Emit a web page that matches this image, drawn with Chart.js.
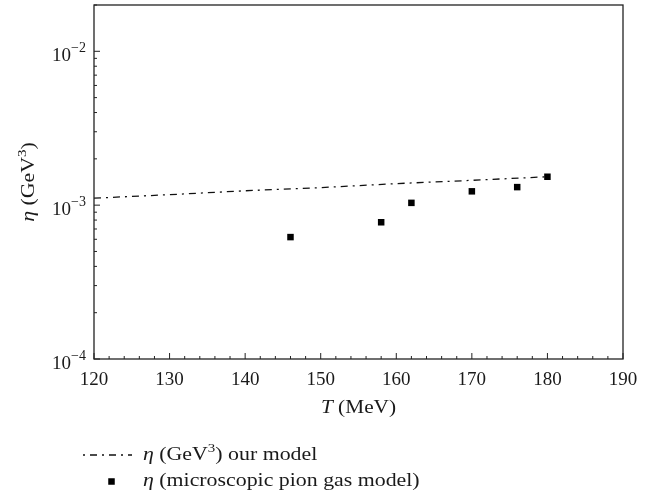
<!DOCTYPE html>
<html lang="en">
<head>
    <meta charset="UTF-8">
    <title>Shear viscosity vs temperature</title>
    <script src="https://cdn.jsdelivr.net/npm/chart.js"></script>
    <style>
        body { margin: 0; background: #fff; }
        #chartContainer { width: 666px; height: 498px; position: relative; }
    </style>
</head>
<body>
    <div id="chartContainer">
        <canvas id="etaChart"></canvas>
    </div>

    <script>
        // our model (dash-dot line)
        const modelT = [120, 130, 140, 150, 160, 170, 180];
        const modelEta = [1.11e-3, 1.17e-3, 1.24e-3, 1.30e-3, 1.38e-3, 1.45e-3, 1.53e-3];
        // microscopic pion gas model (squares)
        const pionT = [146, 158, 162, 170, 176, 180];
        const pionEta = [6.2e-4, 7.74e-4, 1.035e-3, 1.23e-3, 1.31e-3, 1.53e-3];

        const xTickLabels = [120, 130, 140, 150, 160, 170, 180, 190];
        const yExponents = [-4, -3, -2];

        const SERIF = '"Liberation Serif", "Times New Roman", serif';
        const INK = '#1a1a1a';
        const WIDEN = 1.15; // the original font runs wider than Times

        // draws text pieces one after another (for italic / superscript)
        function drawRuns(ctx, runs, x, y, align, sx = 1) {
            let total = 0;
            runs.forEach(r => { ctx.font = r.font; total += ctx.measureText(r.text).width; });
            const start = align === 'right' ? x - total * sx : align === 'center' ? x - total * sx / 2 : x;
            ctx.save();
            ctx.translate(start, y);
            ctx.scale(sx, 1);
            let cx = 0;
            runs.forEach(r => {
                ctx.font = r.font;
                ctx.fillText(r.text, cx, r.dy || 0);
                cx += ctx.measureText(r.text).width;
            });
            ctx.restore();
        }

        function line(ctx, x1, y1, x2, y2) {
            ctx.beginPath();
            ctx.moveTo(x1, y1);
            ctx.lineTo(x2, y2);
            ctx.stroke();
        }

        const decorations = {
            id: 'decorations',
            afterDraw(chart) {
                const { ctx, chartArea: a, scales: { x, y } } = chart;
                ctx.save();
                ctx.strokeStyle = '#222';
                ctx.fillStyle = INK;
                ctx.lineWidth = 1.3;
                ctx.strokeRect(a.left, a.top, a.right - a.left, a.bottom - a.top);

                // x ticks (inward), minor every 2
                ctx.lineWidth = 1;
                for (let v = x.min; v <= x.max; v += 2) {
                    const px = x.getPixelForValue(v);
                    line(ctx, px, a.bottom, px, a.bottom - (v % 10 === 0 ? 6 : 3));
                }
                // y ticks (inward), 1..9 per decade
                yExponents.forEach(e => {
                    for (let m = 1; m <= 9; m++) {
                        const v = m * Math.pow(10, e);
                        if (v > y.max) continue;
                        const py = y.getPixelForValue(v);
                        line(ctx, a.left, py, a.left + (m === 1 ? 6 : 3), py);
                    }
                });

                ctx.textBaseline = 'alphabetic';
                ctx.textAlign = 'left';
                // x tick labels
                xTickLabels.forEach(v => {
                    drawRuns(ctx, [{ text: String(v), font: `19px ${SERIF}` }], x.getPixelForValue(v), a.bottom + 26, 'center');
                });
                // y tick labels 10^e
                yExponents.forEach(e => {
                    const py = y.getPixelForValue(Math.pow(10, e));
                    drawRuns(ctx, [
                        { text: '10', font: `19px ${SERIF}` },
                        { text: '\u2212' + Math.abs(e), font: `14px ${SERIF}`, dy: -9 }
                    ], a.left - 8, py + 10, 'right');
                });

                // axis titles
                drawRuns(ctx, [
                    { text: 'T', font: `italic 19px ${SERIF}` },
                    { text: ' (MeV)', font: `19px ${SERIF}` }
                ], (a.left + a.right) / 2, 413, 'center', 1.12);

                ctx.save();
                ctx.translate(34, (a.top + a.bottom) / 2);
                ctx.rotate(-Math.PI / 2);
                drawRuns(ctx, [
                    { text: '\u03b7', font: `italic 19px ${SERIF}` },
                    { text: ' (GeV', font: `19px ${SERIF}` },
                    { text: '3', font: `13px ${SERIF}`, dy: -8 },
                    { text: ')', font: `19px ${SERIF}` }
                ], 0, 0, 'center', WIDEN);
                ctx.restore();

                // legend
                const ds0 = chart.data.datasets[0];
                const ds1 = chart.data.datasets[1];
                ctx.strokeStyle = ds0.borderColor;
                ctx.lineWidth = ds0.borderWidth;
                ctx.setLineDash(ds0.borderDash);
                ctx.lineDashOffset = ds0.borderDash[0] + ds0.borderDash[1];
                line(ctx, 83, 455, 132, 455);
                ctx.setLineDash([]);
                drawRuns(ctx, [
                    { text: '\u03b7', font: `italic 19px ${SERIF}` },
                    { text: ' (GeV', font: `19px ${SERIF}` },
                    { text: '3', font: `13px ${SERIF}`, dy: -8 },
                    { text: ') our model', font: `19px ${SERIF}` }
                ], 143, 460, 'left', WIDEN);

                const s = ds1.pointRadius * Math.SQRT1_2;
                ctx.fillStyle = ds1.backgroundColor;
                ctx.fillRect(111.5 - s, 481.5 - s, 2 * s, 2 * s);
                ctx.fillStyle = INK;
                drawRuns(ctx, [
                    { text: '\u03b7', font: `italic 19px ${SERIF}` },
                    { text: ' (microscopic pion gas model)', font: `19px ${SERIF}` }
                ], 143, 486, 'left', WIDEN);
                ctx.restore();
            }
        };

        const ctx = document.getElementById('etaChart').getContext('2d');
        new Chart(ctx, {
            type: 'scatter',
            data: {
                datasets: [{
                    label: 'η (GeV³) our model',
                    data: modelT.map((t, i) => ({ x: t, y: modelEta[i] })),
                    showLine: true,
                    borderColor: '#111',
                    borderWidth: 1.3,
                    borderDash: [7, 5, 2, 5],
                    pointRadius: 0,
                    tension: 0
                }, {
                    label: 'η (microscopic pion gas model)',
                    data: pionT.map((t, i) => ({ x: t, y: pionEta[i] })),
                    pointStyle: 'rect',
                    pointRadius: 4.6,
                    backgroundColor: '#000',
                    borderWidth: 0
                }]
            },
            options: {
                responsive: true,
                maintainAspectRatio: false,
                animation: false,
                layout: { padding: { top: 5, right: 43, left: 0, bottom: 0 } },
                plugins: { legend: { display: false }, tooltip: { enabled: false } },
                scales: {
                    x: {
                        type: 'linear', min: 120, max: 190,
                        ticks: { display: false, stepSize: 10 },
                        grid: { display: false },
                        border: { display: false },
                        afterFit(s) { s.height = 139; }
                    },
                    y: {
                        type: 'logarithmic', min: 1e-4, max: 0.02,
                        ticks: { display: false },
                        grid: { display: false },
                        border: { display: false },
                        afterFit(s) { s.width = 94; }
                    }
                }
            },
            plugins: [decorations]
        });
    </script>
</body>
</html>
